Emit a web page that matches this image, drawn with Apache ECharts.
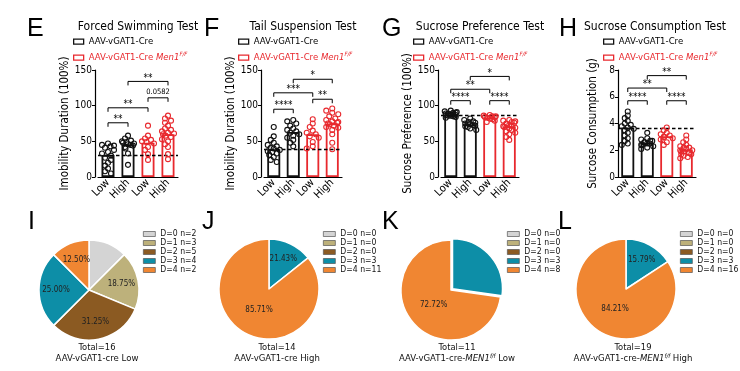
<!DOCTYPE html>
<html><head><meta charset="utf-8">
<script src="https://cdn.jsdelivr.net/npm/echarts@6/dist/echarts.min.js"></script>
<style>html,body{margin:0;padding:0;background:#fff}#c{width:740px;height:371px}</style>
</head><body><div id="c"></div>
<script>
// ---------------- DATA ----------------
const groupLabels = ['Low', 'High', 'Low', 'High'];
const seriesCre = 'AAV-vGAT1-Cre';
const seriesMen = 'AAV-vGAT1-Cre Men1F/F';

// E: Forced Swimming Test (immobility %)
const fstCreLow  = [47,45,44,43,41,38,35,33,30,27,24,20,16,12,8,5];
const fstCreHigh = [58,54,51,50,49,48,47,46,45,44,42,40,33,17];
const fstMenLow  = [72,58,54,52,50,49,47,42,38,32,24];
const fstMenHigh = [86,82,79,76,72,68,66,64,62,61,60,58,56,53,50,46,42,32,25];
const fstMeans = [31, 46, 48, 60];
const fstBaseline = 31;
const fstSigPairs = [[0,1],[0,2],[1,3],[2,3]];
const fstSigY = [76, 97, 134, 111];
const fstSigText = ['**', '**', '**', '0.0582'];

// F: Tail Suspension Test
const tstCreLow  = [70,57,52,48,45,43,41,40,38,36,35,33,31,28,24,21];
const tstCreHigh = [80,78,75,72,68,66,64,62,60,58,55,52,48,43];
const tstMenLow  = [81,75,70,65,62,60,57,55,49,43,40];
const tstMenHigh = [96,93,90,88,85,82,80,78,77,76,75,74,72,70,69,66,60,48,39];
const tstMeans = [39, 63, 60, 75];
const tstBaseline = 39;
const tstSigPairs = [[0,1],[0,2],[1,3],[2,3]];
const tstSigY = [95, 118, 137, 109];
const tstSigText = ['****', '***', '*', '**'];

// G: Sucrose Preference Test
const sptCreLow  = [93,92,91,90,90,89,89,88,88,87,87,86,86,85,84,83];
const sptCreHigh = [82,80,78,77,76,75,75,74,73,72,71,70,68,66];
const sptMenLow  = [87,86,85,85,84,84,83,82,81,79,77];
const sptMenHigh = [80,79,78,77,76,75,74,73,72,71,70,69,68,66,64,62,60,56,52];
const sptMeans = [88, 74, 83, 71];
const sptBaseline = 86;
const sptSigPairs = [[0,1],[0,2],[1,3],[2,3]];
const sptSigY = [107, 123, 141, 107];
const sptSigText = ['****', '**', '*', '****'];

// H: Sucrose Consumption Test (g)
const sctCreLow  = [4.9,4.6,4.4,4.2,4.0,3.9,3.8,3.7,3.6,3.5,3.3,3.1,2.9,2.7,2.5,2.4];
const sctCreHigh = [3.3,2.9,2.8,2.7,2.7,2.6,2.6,2.5,2.5,2.4,2.4,2.3,2.2,2.1];
const sctMenLow  = [3.7,3.5,3.3,3.2,3.1,3.0,3.0,2.9,2.8,2.6,2.4];
const sctMenHigh = [3.1,2.8,2.6,2.4,2.3,2.2,2.2,2.1,2.0,2.0,1.9,1.9,1.8,1.8,1.7,1.7,1.6,1.5,1.4];
const sctMeans = [3.7, 2.55, 3.05, 2.05];
const sctBaseline = 3.65;
const sctSigPairs = [[0,1],[0,2],[1,3],[2,3]];
const sctSigY = [5.7, 6.65, 7.58, 5.7];
const sctSigText = ['****', '**', '**', '****'];

// Pies (I-L)
const pieClasses = ['D=0', 'D=1', 'D=2', 'D=3', 'D=4'];
const pieI_n = [2,3,5,4,2];
const pieI_share = [12.5,18.75,31.25,25,12.5];
const pieI_text = ['12.50%','18.75%','31.25%','25.00%','12.50%'];
const pieJ_n = [0,0,0,3,11];
const pieJ_share = [0,0,0,14.29,85.71];
const pieJ_text = ['','','','21.43%','85.71%'];
const pieK_n = [0,0,0,3,8];
const pieK_share = [0,0,0,27.27,72.72];
const pieK_text = ['','','','27.27%','72.72%'];
const pieL_n = [0,0,0,3,16];
const pieL_share = [0,0,0,15.79,84.21];
const pieL_text = ['','','','15.79%','84.21%'];
const pieTotals = [16, 14, 11, 19];
const pieCaptions = [
  {pre:'AAV-vGAT1-cre', gene:'', sup:'', post:' Low'},
  {pre:'AAV-vGAT1-cre', gene:'', sup:'', post:' High'},
  {pre:'AAV-vGAT1-cre-', gene:'MEN1', sup:'f/f', post:' Low'},
  {pre:'AAV-vGAT1-cre-', gene:'MEN1', sup:'f/f', post:' High'}
];

// ---------------- STYLE / LAYOUT ----------------
const FN = '"Liberation Sans Narrow","Arial Narrow","DejaVu Sans Condensed","Liberation Sans",Arial,sans-serif';
const FA = '"Liberation Sans",Arial,Helvetica,sans-serif';
const BLACK = '#111111';
const RED = '#e8292e';
const pieColors = ['#d4d4d4', '#bdb17b', '#8b5a22', '#0d8ea7', '#f08632'];

const panelData = [
  {title:'Forced Swimming Test', yName:'Imobility Duration (100%)', yMax:150, yStep:50, means:fstMeans,
   points:[fstCreLow,fstCreHigh,fstMenLow,fstMenHigh], baseline:fstBaseline, pairs:fstSigPairs, sigY:fstSigY, sigText:fstSigText},
  {title:'Tail Suspension Test', yName:'Imobility Duration (100%)', yMax:150, yStep:50, means:tstMeans,
   points:[tstCreLow,tstCreHigh,tstMenLow,tstMenHigh], baseline:tstBaseline, pairs:tstSigPairs, sigY:tstSigY, sigText:tstSigText},
  {title:'Sucrose Preference Test', yName:'Sucrose Preference (100%)', yMax:150, yStep:50, means:sptMeans,
   points:[sptCreLow,sptCreHigh,sptMenLow,sptMenHigh], baseline:sptBaseline, pairs:sptSigPairs, sigY:sptSigY, sigText:sptSigText},
  {title:'Sucrose Consumption Test', yName:'Surcose Consumption (g)', yMax:8, yStep:2, means:sctMeans,
   points:[sctCreLow,sctCreHigh,sctMenLow,sctMenHigh], baseline:sctBaseline, pairs:sctSigPairs, sigY:sctSigY, sigText:sctSigText}
];
const panelLayout = [
  {left:98,  width:80, yOffset:3, nameGap:22, letter:'E', letterX:27,  titleX:138, legendX:73},
  {left:264, width:78, yOffset:3, nameGap:23, letter:'F', letterX:204, titleX:303, legendX:238},
  {left:441, width:78, yOffset:3, nameGap:24, letter:'G', letterX:382, titleX:480, legendX:413},
  {left:618, width:78, yOffset:0, nameGap:19, letter:'H', letterX:559, titleX:655, legendX:603}
];

const pieData = [
  {n:pieI_n, share:pieI_share, text:pieI_text},
  {n:pieJ_n, share:pieJ_share, text:pieJ_text},
  {n:pieK_n, share:pieK_share, text:pieK_text},
  {n:pieL_n, share:pieL_share, text:pieL_text}
];
const pieLayout = [
  {center:[89,290],  letter:'I', letterX:28,  legendX:143, textX:97,  explode:0},
  {center:[269,289], letter:'J', letterX:202, legendX:323, textX:277, explode:0},
  {center:[451,290], letter:'K', letterX:382, legendX:507, textX:457, explode:2},
  {center:[626,289], letter:'L', letterX:558, legendX:680, textX:633, explode:0}
];
const pieR = 50;

// ---------------- RENDERERS ----------------
function swarmRenderer(points) {
  return function (params, api) {
    const g = params.dataIndex;
    const vals = points[g];
    const col = g < 2 ? BLACK : RED;
    const order = vals.map((v, i) => i).sort((a, b) => vals[b] - vals[a]);
    const placed = [];
    const children = [];
    const offs = [0, -3, 3, -6, 6, -1.5, 1.5, -4.5, 4.5];
    order.forEach((i, k) => {
      const p = api.coord([g, vals[i]]);
      let bx = null;
      for (const o of offs) {
        const x = p[0] + o;
        if (placed.every(q => Math.hypot(q[0] - x, q[1] - p[1]) >= 3.8)) { bx = x; break; }
      }
      if (bx === null) bx = p[0] + ((k % 5) - 2) * 2.5;
      placed.push([bx, p[1]]);
      children.push({type:'circle', shape:{cx:bx, cy:p[1], r:2.5},
        style:{fill:'rgba(255,255,255,0)', stroke:col, lineWidth:1.1}});
    });
    return {type:'group', children};
  };
}
function bracketRenderer(texts) {
  return function (params, api) {
    const a = api.coord([api.value(0), api.value(2)]);
    const b = api.coord([api.value(1), api.value(2)]);
    const t = 4;
    const txt = texts[params.dataIndex];
    const isNum = /\d/.test(txt);
    return {type:'group', children:[
      {type:'polyline', shape:{points:[[a[0], a[1]+t],[a[0], a[1]],[b[0], b[1]],[b[0], b[1]+t]]},
       style:{stroke:'#000', lineWidth:1, fill:null}},
      {type:'text', x:(a[0]+b[0])/2, y:a[1] + (isNum ? -1.5 : 1.5),
       style:{text:txt, align:'center', textAlign:'center', verticalAlign:'bottom', textVerticalAlign:'bottom',
              font:(isNum ? '7.5px ' : '10px ') + FN, fill:'#000'}}
    ]};
  };
}

// ---------------- OPTION ----------------
const grid = [], xAxis = [], yAxis = [], series = [], legend = [], graphic = [];
const overlaySeries = [];

panelData.forEach((d, k) => {
  const L = panelLayout[k];
  grid.push({left:L.left, top:70, width:L.width, height:107});
  xAxis.push({gridIndex:k, type:'category', data:groupLabels, boundaryGap:true,
    axisLine:{lineStyle:{color:'#000', width:1.2}},
    axisTick:{alignWithLabel:true, length:3, lineStyle:{color:'#000', width:1}},
    axisLabel:{interval:0, rotate:45, margin:4, fontSize:11, color:'#000', fontFamily:FN}});
  yAxis.push({gridIndex:k, type:'value', min:0, max:d.yMax, interval:d.yStep, offset:L.yOffset,
    splitLine:{show:false},
    axisLine:{show:true, lineStyle:{color:'#000', width:1.2}},
    axisTick:{show:true, length:3, lineStyle:{color:'#000', width:1}},
    axisLabel:{fontSize:10, color:'#000', fontFamily:FN, margin:3},
    name:d.yName, nameLocation:'middle', nameGap:L.nameGap,
    nameTextStyle:{fontSize:11.5, color:'#000', fontFamily:FN}});
  series.push({type:'bar', name:seriesCre, xAxisIndex:k, yAxisIndex:k,
    data:d.means.map((m, i) => i < 2 ? m : '-'), barWidth:13, barGap:'-100%',
    itemStyle:{color:'#fff', borderColor:BLACK, borderWidth:1.8},
    markLine:{silent:true, symbol:'none', label:{show:false},
      lineStyle:{type:[3.5, 2.5], color:'#000', width:1.3}, data:[{yAxis:d.baseline}]}});
  series.push({type:'bar', name:seriesMen, xAxisIndex:k, yAxisIndex:k,
    data:d.means.map((m, i) => i >= 2 ? m : '-'), barWidth:13, barGap:'-100%',
    itemStyle:{color:'#fff', borderColor:RED, borderWidth:1.8}});
  series.push({type:'custom', xAxisIndex:k, yAxisIndex:k, silent:true, z:5,
    data:d.means.map((m, i) => [i, m]), encode:{x:0, y:1}, renderItem:swarmRenderer(d.points)});
  series.push({type:'custom', xAxisIndex:k, yAxisIndex:k, silent:true, z:6,
    data:d.pairs.map((p, i) => [p[0], p[1], d.sigY[i]]), encode:{x:[0,1], y:2},
    renderItem:bracketRenderer(d.sigText)});

  legend.push({orient:'vertical', left:L.legendX, top:35.7, padding:0, itemWidth:10, itemHeight:5,
    icon:'rect', selectedMode:false,
    data:[{name:seriesCre, itemStyle:{color:'#fff', borderColor:BLACK, borderWidth:1.3}}],
    textStyle:{fontSize:9.5, fontFamily:FN, color:'#000', lineHeight:12}});
  legend.push({orient:'vertical', left:L.legendX, top:51.7, padding:0, itemWidth:10, itemHeight:5,
    icon:'rect', selectedMode:false,
    data:[{name:seriesMen, itemStyle:{color:'#fff', borderColor:RED, borderWidth:1.3}}],
    formatter:() => '{a|AAV-vGAT1-Cre }{i|Men1}{s|F/F}',
    textStyle:{fontSize:9.5, fontFamily:FN, color:RED, lineHeight:12, rich:{
      a:{color:RED, fontSize:9.5, fontFamily:FN, lineHeight:12},
      i:{color:RED, fontSize:9.5, fontFamily:FN, fontStyle:'italic', lineHeight:12},
      s:{color:RED, fontSize:6, fontFamily:FN, fontStyle:'italic', lineHeight:7, verticalAlign:'top'}}}});

  graphic.push({type:'text', x:L.letterX, y:29, style:{text:L.letter, font:'25px ' + FA, fill:'#000',
    align:'left', textAlign:'left', verticalAlign:'middle', textVerticalAlign:'middle'}});
  graphic.push({type:'text', x:L.titleX, y:27, style:{text:d.title, font:'12px ' + FN, fill:'#000',
    align:'center', textAlign:'center', verticalAlign:'middle', textVerticalAlign:'middle'}});
});

pieData.forEach((p, k) => {
  const L = pieLayout[k];
  const items = p.share.map((v, i) => ({name:pieClasses[i] + ' n=' + p.n[i], value:v}));
  series.push({type:'pie', center:L.center, radius:pieR, startAngle:90, clockwise:true,
    avoidLabelOverlap:false, label:{show:false}, labelLine:{show:false},
    selectedMode:'multiple', selectedOffset:L.explode,
    emphasis:{scale:false},
    itemStyle:{borderColor:'#fff', borderWidth:1.5},
    data:items.map((it, i) => ({name:it.name, value:it.value, itemStyle:{color:pieColors[i]},
      selected:(i === 3 && L.explode > 0)}))});
  // label layers (transparent) to place the percentage text inside the slices
  [[60, v => v < 50], [40, v => v >= 50]].forEach(([rad, cond]) => {
    overlaySeries.push({type:'pie', center:L.center, radius:rad, startAngle:90, clockwise:true,
      silent:true, avoidLabelOverlap:false, labelLine:{show:false},
      itemStyle:{color:'rgba(0,0,0,0)', borderWidth:0},
      label:{show:true, position:'inside', fontSize:8, fontFamily:FN, color:'#222',
        formatter:(q) => cond(p.share[q.dataIndex]) ? p.text[q.dataIndex] : ''},
      data:items.map(it => ({name:it.name, value:it.value}))});
  });
  legend.push({orient:'vertical', left:L.legendX, top:229.5, padding:0, itemGap:0, itemWidth:12, itemHeight:5,
    icon:'rect', selectedMode:false, data:items.map(it => it.name),
    itemStyle:{borderColor:'#555', borderWidth:0.7},
    textStyle:{fontSize:8.6, fontFamily:FN, color:'#111', lineHeight:8.4}});
  graphic.push({type:'text', x:L.letterX, y:222, style:{text:L.letter, font:'25px ' + FA, fill:'#000',
    align:'left', textAlign:'left', verticalAlign:'middle', textVerticalAlign:'middle'}});
  graphic.push({type:'text', x:L.textX, y:348, style:{text:'Total=' + pieTotals[k], font:'9.3px ' + FN, fill:'#111',
    align:'center', textAlign:'center', verticalAlign:'middle', textVerticalAlign:'middle'}});
  const c = pieCaptions[k];
  const rt = '{a|' + c.pre + '}' + (c.gene ? '{i|' + c.gene + '}{s|' + c.sup + '}' : '') + '{a|' + c.post + '}';
  graphic.push({type:'text', x:L.textX, y:358.5, style:{text:rt, fill:'#111',
    align:'center', textAlign:'center', verticalAlign:'middle', textVerticalAlign:'middle',
    rich:{a:{fontSize:9.5, fontFamily:FN, fill:'#111', color:'#111', lineHeight:11},
          i:{fontSize:9.5, fontFamily:FN, fontStyle:'italic', fill:'#111', color:'#111', lineHeight:11},
          s:{fontSize:6, fontFamily:FN, fontStyle:'italic', fill:'#111', color:'#111', lineHeight:7, verticalAlign:'top'}}}});
});

const option = {
  animation:false,
  backgroundColor:'#fff',
  textStyle:{fontFamily:FN},
  grid, xAxis, yAxis, legend, graphic,
  series:series.concat(overlaySeries)
};
const chart = echarts.init(document.getElementById('c'), null, {renderer:'canvas'});
chart.setOption(option);
</script></body></html>
